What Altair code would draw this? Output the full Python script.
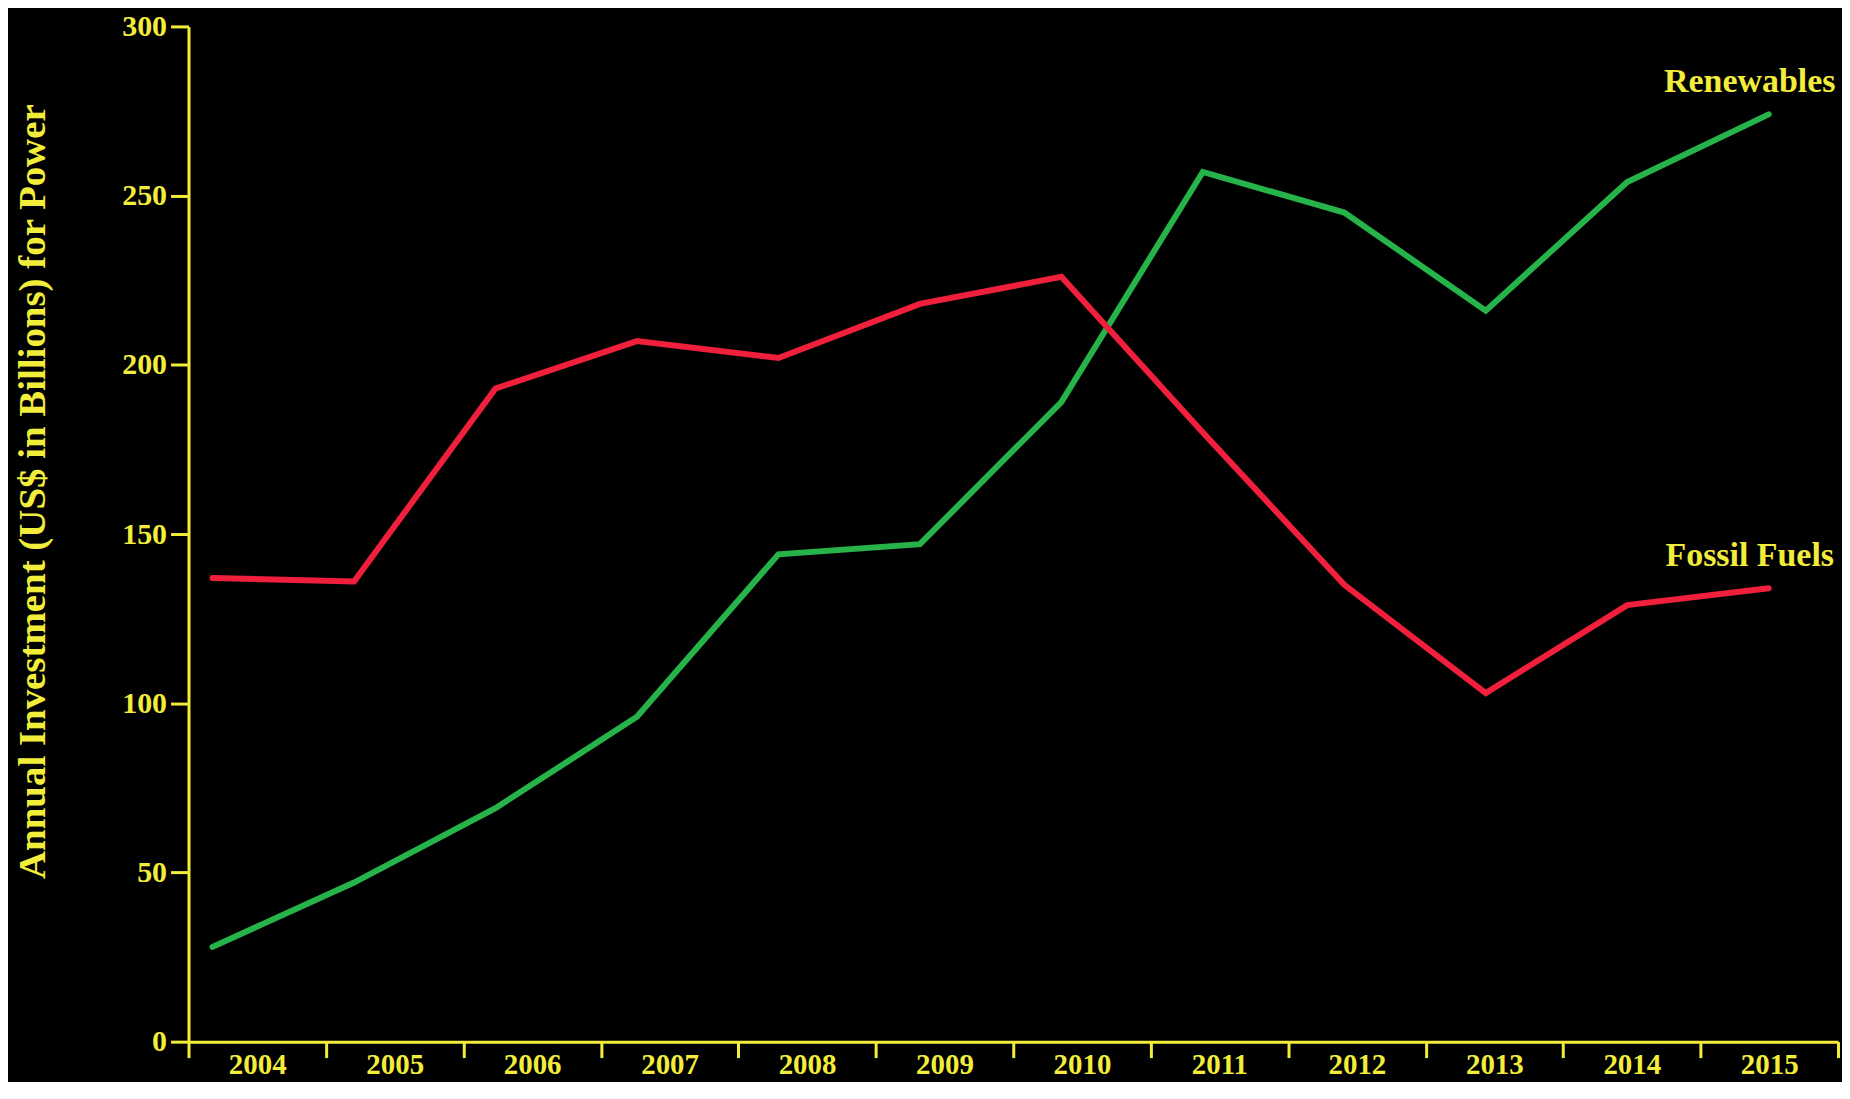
import altair as alt
import pandas as pd

# ---- data ----
years = [2004, 2005, 2006, 2007, 2008, 2009, 2010, 2011, 2012, 2013, 2014, 2015]
renewables = [28, 47, 69, 96, 144, 147, 189, 257, 245, 216, 254, 274]
fossil_fuels = [137, 136, 193, 207, 202, 218, 226, 180, 135, 103, 129, 134]
series_names = ["Renewables", "Fossil Fuels"]
y_ticks = [0, 50, 100, 150, 200, 250, 300]

YELLOW = "#F2EC3A"
GREEN = "#25B34A"
RED = "#F0203C"
FONT = "Liberation Serif"

rows = []
for name, vals in zip(series_names, [renewables, fossil_fuels]):
    for yr, v in zip(years, vals):
        rows.append({"Year": yr, "Value": v, "Series": name})
df = pd.DataFrame(rows)

last = pd.DataFrame({
    "Year": [years[-1], years[-1]],
    "Value": [renewables[-1], fossil_fuels[-1]],
    "Label": series_names,
})

PLOT_H = 1018

def y_enc():
    return alt.Y(
        "Value:Q",
        scale=alt.Scale(domain=[0, 300], nice=False, zero=True),
        axis=alt.Axis(
            values=y_ticks, title="Annual Investment (US$ in Billions) for Power",
            titleFont=FONT, titleFontSize=39, titleFontWeight="bold", titleColor=YELLOW,
            titleX=-156, titleY=466, titleAngle=-90, titleAlign="center", titleBaseline="middle",
            labelFont=FONT, labelFontSize=30, labelFontWeight="bold", labelColor=YELLOW,
            labelPadding=4, tickSize=18, tickWidth=3, tickColor=YELLOW,
            domainColor=YELLOW, domainWidth=3, grid=False,
        ),
    )

def x_quant():
    return alt.X("Year:Q", scale=alt.Scale(domain=[2003.83, 2015.49], nice=False, zero=False), axis=None)

# categorical year axis (labels centred in bands, ticks at band edges)
axis_layer = alt.Chart(df).mark_point(opacity=0).encode(
    x=alt.X("Year:O", scale=alt.Scale(paddingInner=0, paddingOuter=0),
            axis=alt.Axis(title=None, labelAngle=0, tickBand="extent", labelOverlap=False,
                          labelFont=FONT, labelFontSize=29, labelFontWeight="bold",
                          labelColor=YELLOW, labelPadding=-7, tickSize=16, tickWidth=3,
                          tickColor=YELLOW, domainColor=YELLOW, domainWidth=3, grid=False)),
    y=y_enc(),
)

lines = alt.Chart(df).mark_line(strokeWidth=6, strokeCap="round").encode(
    x=x_quant(),
    y=y_enc(),
    color=alt.Color("Series:N", scale=alt.Scale(domain=series_names, range=[GREEN, RED]), legend=None),
    detail="Series:N",
)

labels = alt.Chart(last).mark_text(
    font=FONT, fontSize=34, fontWeight="bold", color=YELLOW,
    align="center", baseline="middle", dx=-19, dy=-32,
).encode(
    x=x_quant(),
    y=y_enc(),
    text="Label:N",
)

chart = alt.layer(axis_layer, lines, labels).resolve_scale(x="independent").properties(
    width=1654, height=PLOT_H,
    autosize=alt.AutoSizeParams(type="none"),
    padding={"left": 181, "top": 17, "right": 4, "bottom": 39},
    background="#000000",
).configure_view(stroke=None)

chart.save("out.html", embed_options={"renderer": "svg", "actions": False})
